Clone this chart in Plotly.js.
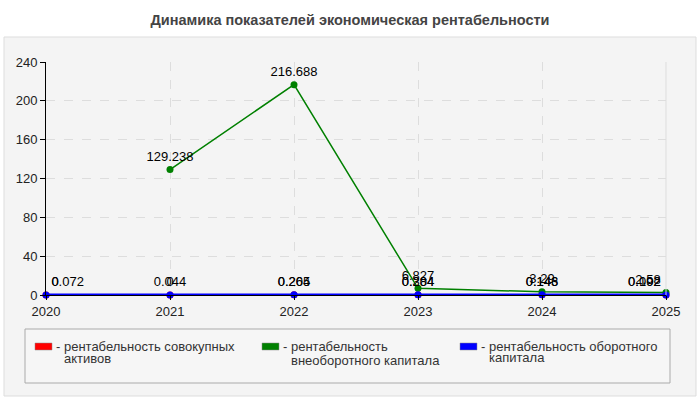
<!DOCTYPE html>
<html>
<head>
<meta charset="utf-8">
<script src="https://cdn.plot.ly/plotly-3.0.1.min.js"></script>
<style>body{margin:0;background:#fff}#chart{width:700px;height:400px}</style>
</head>
<body>
<div id="chart"></div>
<script>
// данные
var years = ['2020', '2021', '2022', '2023', '2024', '2025'];
var totalAssets = [0, 0, 0.205, 0.304, 0.143, 0.092];       // совокупных активов
var fixedCapital = [null, 129.238, 216.688, 6.827, 3.29, 2.58]; // внеоборотного капитала
var workingCapital = [0.072, 0.044, 0.264, 0.284, 0.146, 0.102]; // оборотного капитала
var seriesNames = [['рентабельность совокупных', 'активов'], ['рентабельность', 'внеоборотного капитала'], ['рентабельность оборотного', 'капитала']];
var seriesColors = ['#ff0000', '#008000', '#0000ff'];

// поля области построения в пикселях
var L = 46, R = 666, T = 62, B = 295;
function px(x) { return (x - L) / (R - L); }
function py(y) { return (B - y) / (B - T); }

// подписи у крайних точек прижимаем внутрь
var labelPos = years.map(function (y, i) {
  if (i === 0) return 'top right';
  if (i === years.length - 1) return 'top left';
  return 'top center';
});

function makeTrace(vals, i, w) {
  return {
    x: years, y: vals, type: 'scatter', mode: 'lines+markers+text',
    name: seriesNames[i].join(' '),
    line: {color: seriesColors[i], width: w},
    marker: {color: seriesColors[i], size: 7},
    text: vals.map(function (v) { return v === null ? '' : String(v); }),
    textposition: labelPos,
    textfont: {size: 13, color: '#000'},
    cliponaxis: false,
    showlegend: false,
    hoverinfo: 'x+y'
  };
}

var data = [
  makeTrace(totalAssets, 0, 2),
  makeTrace(fixedCapital, 1, 1.5),
  makeTrace(workingCapital, 2, 3)
];

var shapes = [
  // серая подложка
  {type: 'rect', xref: 'paper', yref: 'paper', layer: 'below',
   x0: px(4), x1: px(696), y0: py(396), y1: py(37),
   fillcolor: '#f4f4f4', line: {color: '#dddddd', width: 1}},
  // рамка легенды
  {type: 'rect', xref: 'paper', yref: 'paper', layer: 'below',
   x0: px(25), x1: px(670), y0: py(383), y1: py(329),
   fillcolor: '#f6f6f6', line: {color: '#aaaaaa', width: 1}},
  // правая граница области
  {type: 'line', xref: 'paper', yref: 'paper',
   x0: 1, x1: 1, y0: 0, y1: 1, line: {color: '#dddddd', width: 1}}
];
var annotations = [];
var legX = [35, 262, 460];
var line2Y = [358, 360, 357];
for (var i = 0; i < 3; i++) {
  shapes.push({type: 'rect', xref: 'paper', yref: 'paper',
    x0: px(legX[i]), x1: px(legX[i] + 17), y0: py(350), y1: py(343),
    fillcolor: seriesColors[i], line: {color: '#888', width: 0.5}});
  annotations.push({xref: 'paper', yref: 'paper', x: px(legX[i] + 19), y: py(346),
    xanchor: 'left', yanchor: 'middle', showarrow: false,
    text: '- ' + seriesNames[i][0], font: {size: 13, color: '#333'}});
  annotations.push({xref: 'paper', yref: 'paper', x: px(legX[i] + 27), y: py(line2Y[i]),
    xanchor: 'left', yanchor: 'middle', showarrow: false,
    text: seriesNames[i][1], font: {size: 13, color: '#333'}});
}

var layout = {
  width: 700, height: 400,
  margin: {l: L, r: 700 - R, t: T, b: 400 - B},
  paper_bgcolor: '#ffffff',
  plot_bgcolor: '#fbfbf4',
  font: {family: 'Liberation Sans, Arial, sans-serif', size: 13, color: '#222'},
  title: {text: '<b>Динамика показателей экономическая рентабельности</b>',
    x: 0.5, xref: 'container', y: 0.95, yref: 'container', yanchor: 'middle',
    font: {size: 14.5, color: '#444'}},
  xaxis: {
    type: 'category', range: [0, 5],
    showline: true, linecolor: '#000', linewidth: 1,
    showgrid: true, gridcolor: '#dddddd', griddash: 'dash',
    ticks: 'outside', ticklen: 4, tickcolor: '#000',
    zeroline: false, fixedrange: true
  },
  yaxis: {
    range: [0, 240], dtick: 40,
    showline: true, linecolor: '#000', linewidth: 1,
    showgrid: true, gridcolor: '#dddddd', griddash: 'dash',
    ticks: 'outside', ticklen: 5, tickcolor: '#000',
    zeroline: false, fixedrange: true
  },
  shapes: shapes,
  annotations: annotations,
  showlegend: false
};

Plotly.newPlot('chart', data, layout, {displayModeBar: false, staticPlot: true});
</script>
</body>
</html>
